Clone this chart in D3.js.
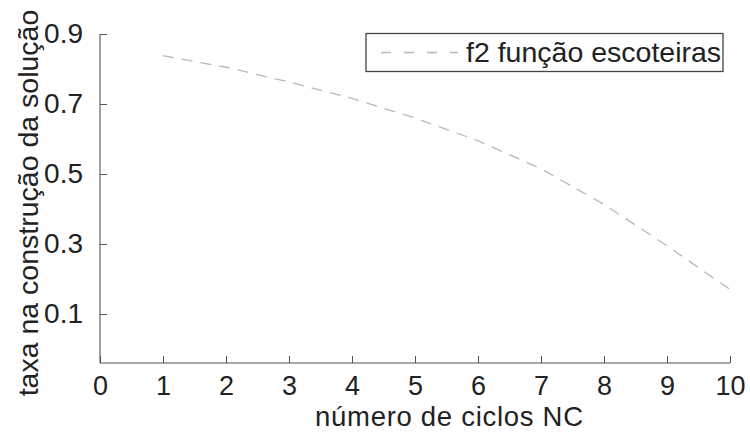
<!DOCTYPE html>
<html>
<head>
<meta charset="utf-8">
<script src="https://cdn.jsdelivr.net/npm/d3@7"></script>
<style>
  html, body { margin: 0; padding: 0; background: #fff; }
  svg { display: block; font-family: "Liberation Sans", Arial, sans-serif; }
</style>
</head>
<body>
<svg id="chart" width="750" height="432"></svg>
<script>
// Number of cycles and the solution-building rate for f2
const cycles = [1, 2, 3, 4, 5, 6, 7, 8, 9, 10];
const rateF2 = [0.838, 0.805, 0.763, 0.716, 0.66, 0.595, 0.515, 0.413, 0.295, 0.17];
const xTicks = [0, 1, 2, 3, 4, 5, 6, 7, 8, 9, 10];
const yTicks = [0.1, 0.3, 0.5, 0.7, 0.9];
const seriesName = "f2 função escoteiras";
const xTitle = "número de ciclos NC";
const yTitle = "taxa na construção da solução";

const svg = d3.select("#chart");

const x = d3.scaleLinear().domain([0, 10]).range([100, 730]);
const y = d3.scaleLinear().domain([-0.04, 0.9]).range([363, 34]);

const axisColor = "#8a8a8a";
const tickColor = "#555";
const textColor = "#222";
const tickFont = 27;

// Axis lines (left and bottom only)
svg.append("line")
  .attr("x1", x(0)).attr("x2", x(0))
  .attr("y1", y.range()[0]).attr("y2", y(0.9))
  .attr("stroke", axisColor).attr("stroke-width", 1.6);
svg.append("line")
  .attr("x1", x(0)).attr("x2", x(10))
  .attr("y1", y.range()[0]).attr("y2", y.range()[0])
  .attr("stroke", axisColor).attr("stroke-width", 1.6);

// Y axis: inward ticks, labels on the left
const yAxis = d3.axisLeft(y).tickValues(yTicks).tickSize(-7).tickPadding(17)
  .tickFormat(d3.format(".1f"));
const gy = svg.append("g").attr("transform", `translate(${x(0)},0)`).call(yAxis);
gy.select(".domain").remove();
gy.selectAll(".tick line").attr("stroke", tickColor).attr("stroke-width", 1);
gy.selectAll(".tick text")
  .attr("fill", textColor).attr("font-size", 28)
  .attr("font-family", "Liberation Sans, Arial, sans-serif");

// X axis: inward ticks, labels below
const xAxis = d3.axisBottom(x).tickValues(xTicks).tickSize(-7).tickPadding(13)
  .tickFormat(d3.format("d"));
const gx = svg.append("g").attr("transform", `translate(0,${y.range()[0]})`).call(xAxis);
gx.select(".domain").remove();
gx.selectAll(".tick line").attr("stroke", tickColor).attr("stroke-width", 1);
gx.selectAll(".tick text")
  .attr("fill", textColor).attr("font-size", tickFont)
  .attr("font-family", "Liberation Sans, Arial, sans-serif");

// Axis titles
svg.append("text")
  .attr("x", 449).attr("y", 426)
  .attr("text-anchor", "middle")
  .attr("font-size", 27.5).attr("fill", textColor)
  .attr("textLength", 268)
  .text(xTitle);
svg.append("text")
  .attr("transform", "translate(38,203) rotate(-90)")
  .attr("text-anchor", "middle")
  .attr("font-size", 28.5).attr("fill", textColor)
  .text(yTitle);

// Data series
const line = d3.line()
  .x((d, i) => x(cycles[i]))
  .y(d => y(d));
svg.append("path")
  .datum(rateF2)
  .attr("d", line)
  .attr("fill", "none")
  .attr("stroke", "#b8b8b8")
  .attr("stroke-width", 1.3)
  .attr("stroke-dasharray", "11,8");

// Legend
const legend = svg.append("g");
legend.append("rect")
  .attr("x", 366).attr("y", 33.5)
  .attr("width", 357).attr("height", 38)
  .attr("fill", "#fff")
  .attr("stroke", "#444").attr("stroke-width", 1.3);
legend.append("line")
  .attr("x1", 381).attr("x2", 458)
  .attr("y1", 52.5).attr("y2", 52.5)
  .attr("stroke", "#b8b8b8").attr("stroke-width", 1.3)
  .attr("stroke-dasharray", "10,13");
legend.append("text")
  .attr("x", 466).attr("y", 62)
  .attr("font-size", 28.5).attr("fill", textColor)
  .text(seriesName);
</script>
</body>
</html>
